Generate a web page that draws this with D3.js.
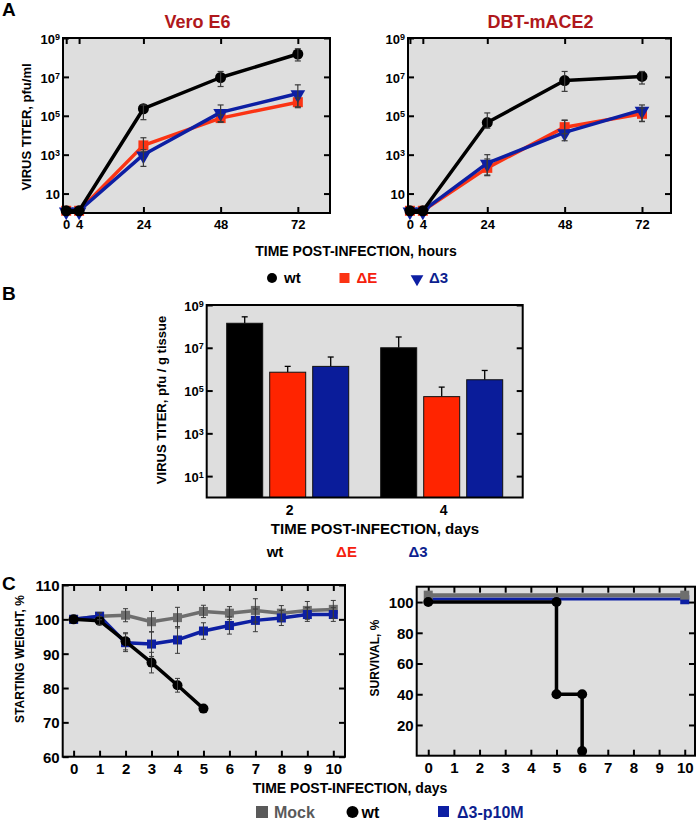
<!DOCTYPE html>
<html><head><meta charset="utf-8">
<script src="https://cdn.jsdelivr.net/npm/d3@7"></script>
<style>
body{margin:0;background:#fff}
text{font-family:"Liberation Sans",Arial,Helvetica,sans-serif;font-weight:bold}
</style>
</head><body>
<svg id="c" width="698" height="820"></svg>
<script>
// ---------------- DATA ----------------
// Panel A (hours post-infection, virus titer pfu/ml)
const hours = [0, 4, 24, 48, 72];
const hourLabels = ["0", "4", "24", "48", "72"];
const veroWt   = [1.3, 1.3, 2.3e5, 9.3e6, 1.5e8];
const veroWtLo = [null, null, 6.3e4, 3.2e6, 6.6e7];
const veroWtHi = [null, null, 3.6e5, 1.9e7, 2.8e8];
const veroDE   = [1.3, 1.3, 3.0e3, 7.6e4, 5.0e5];
const veroDELo = [null, null, 1.4e3, 4.6e4, 2.6e5];
const veroDEHi = [null, null, 7.4e3, 1.1e5, 8.3e5];
const veroD3   = [1.3, 1.3, 1.0e3, 1.5e5, 1.4e6];
const veroD3Lo = [null, null, 2.5e2, 5.0e4, 2.9e5];
const veroD3Hi = [null, null, 1.8e3, 3.6e5, 3.9e6];
const dbtWt    = [1.3, 1.3, 4.5e4, 6.5e6, 1.05e7];
const dbtWtLo  = [null, null, 2.3e4, 1.8e6, 4.3e6];
const dbtWtHi  = [null, null, 1.4e5, 1.9e7, 1.9e7];
const dbtDE    = [1.3, 1.3, 2.1e2, 2.6e4, 1.26e5];
const dbtDELo  = [null, null, 9.0e1, 1.2e4, 5.0e4];
const dbtDEHi  = [null, null, 6.0e2, 6.0e4, 2.5e5];
const dbtD3    = [1.3, 1.3, 3.7e2, 1.4e4, 2.0e5];
const dbtD3Lo  = [null, null, 8.3e1, 5.2e3, 5.2e4];
const dbtD3Hi  = [null, null, 1.0e3, 5.8e4, 3.6e5];
const logTicksA = [10, 1e3, 1e5, 1e7, 1e9];
const logLabelsA = [["10", ""], ["10", "3"], ["10", "5"], ["10", "7"], ["10", "9"]];
const seriesNamesA = ["wt", "\u0394E", "\u03943"];

// Panel B (days post-infection, virus titer pfu/g tissue)
const daysB = ["2", "4"];
const barSeries = ["wt", "\u0394E", "\u03943"];
const barWt   = [1.4e8, 1.0e7];
const barWtHi = [2.8e8, 3.2e7];
const barDE   = [7.2e5, 5.2e4];
const barDEHi = [1.35e6, 1.45e5];
const barD3   = [1.35e6, 3.2e5];
const barD3Hi = [3.7e6, 8.7e5];
const logTicksB = [10, 1e3, 1e5, 1e7, 1e9];
const logLabelsB = [["10", "1"], ["10", "3"], ["10", "5"], ["10", "7"], ["10", "9"]];

// Panel C weight
const daysC = [0, 1, 2, 3, 4, 5, 6, 7, 8, 9, 10];
const mockW   = [100, 100.9, 101.2, 99.3, 100.5, 102.3, 101.8, 102.6, 101.8, 102.6, 102.9];
const mockErr = [0, 1.0, 1.9, 3.0, 3.0, 1.8, 1.9, 3.4, 2.2, 2.6, 2.6];
const p10mW   = [100, 100.9, 93.2, 92.8, 94.0, 96.6, 98.2, 99.7, 100.4, 101.4, 101.4];
const p10mErr = [0, 1.0, 2.6, 3.6, 3.9, 2.4, 2.5, 3.3, 2.2, 2.0, 2.0];
const wtDays  = [0, 1, 2, 3, 4, 5];
const wtW     = [100, 99.6, 93.6, 87.4, 80.8, 74.0];
const wtErr   = [0, 1.2, 2.5, 3.0, 2.0, 0];
const weightTicks = [60, 70, 80, 90, 100, 110];

// Panel C survival
const survDaysWt = [0, 5, 5, 6, 6];
const survWt     = [100, 100, 40, 40, 3];
const survDaysMock = [0, 10];
const survMock     = [104.5, 104.5];
const survDaysP10m = [0, 10];
const survP10m     = [102, 102];
const survTicks = [20, 40, 60, 80, 100];
const legendC = ["Mock", "wt", "\u03943-p10M"];

// ---------------- STYLE ----------------
const BG = "#dedede", BLACK = "#000", RED = "#fb3414", BLUE = "#0d1fa3",
      REDBAR = "#ff2400", BLUEBAR = "#0a1c9a", GRAY = "#6e6e6e",
      TITLE = "#b0181c", ERR = "#3a3a3a";

const svg = d3.select("#c");

function frame(x, y) {
  const [x0, x1] = x.range(), [y0, y1] = y.range();
  svg.append("rect").attr("x", Math.min(x0, x1)).attr("y", Math.min(y0, y1))
    .attr("width", Math.abs(x1 - x0)).attr("height", Math.abs(y1 - y0))
    .attr("fill", BG);
}
function border(x, y) {
  const [x0, x1] = x.range(), [y0, y1] = y.range();
  svg.append("rect").attr("x", Math.min(x0, x1)).attr("y", Math.min(y0, y1))
    .attr("width", Math.abs(x1 - x0)).attr("height", Math.abs(y1 - y0))
    .attr("fill", "none").attr("stroke", "#000").attr("stroke-width", 2);
}
function styleAxis(g, fs) {
  g.select(".domain").remove();
  g.selectAll(".tick line").attr("stroke", "#000").attr("stroke-width", 2);
  g.selectAll(".tick text").attr("font-size", fs).attr("fill", "#000")
    .attr("font-family", '"Liberation Sans",Arial,sans-serif').attr("font-weight", "bold");
}
function ticksAll(x, y, xt, yt, xfmt, yfmt, fs, showY = true, showX = true) {
  const [x0, x1] = x.range(), [y0, y1] = y.range();
  const L = Math.min(x0, x1), R = Math.max(x0, x1), T = Math.min(y0, y1), B = Math.max(y0, y1);
  const gl = svg.append("g").attr("transform", `translate(${L},0)`)
    .call(d3.axisLeft(y).tickValues(yt).tickSizeInner(-6).tickSizeOuter(0).tickPadding(3).tickFormat(showY ? yfmt : ""));
  styleAxis(gl, fs);
  const gr = svg.append("g").attr("transform", `translate(${R},0)`)
    .call(d3.axisRight(y).tickValues(yt).tickSizeInner(-6).tickSizeOuter(0).tickFormat(""));
  styleAxis(gr, fs);
  if (xt) {
    const gb = svg.append("g").attr("transform", `translate(0,${B})`)
      .call(d3.axisBottom(x).tickValues(xt).tickSizeInner(-6).tickSizeOuter(0).tickPadding(7).tickFormat(showX ? xfmt : ""));
    styleAxis(gb, fs);
    const gt = svg.append("g").attr("transform", `translate(0,${T})`)
      .call(d3.axisTop(x).tickValues(xt).tickSizeInner(-6).tickSizeOuter(0).tickFormat(""));
    styleAxis(gt, fs);
    return [gl, gb];
  }
  return [gl, null];
}
function supLabels(g, labels, supSize) {
  g.selectAll(".tick text").each(function(d, i) {
    const t = d3.select(this); t.text(null);
    const lab = labels[i];
    t.append("tspan").text(lab[0]);
    if (lab[1]) t.append("tspan").attr("dy", "-0.45em").attr("font-size", supSize).text(lab[1]);
  });
}
function errBars(x, y, xs, lo, hi, cap, color, width) {
  xs.forEach((xv, i) => {
    if (lo[i] == null || hi[i] == null) return;
    const cx = x(xv), ya = y(lo[i]), yb = y(hi[i]);
    svg.append("line").attr("x1", cx).attr("x2", cx).attr("y1", ya).attr("y2", yb)
      .attr("stroke", color).attr("stroke-width", width);
    [ya, yb].forEach(yy => svg.append("line").attr("x1", cx - cap).attr("x2", cx + cap)
      .attr("y1", yy).attr("y2", yy).attr("stroke", color).attr("stroke-width", width));
  });
}
function line(x, y, xs, ys, color, w) {
  svg.append("path").datum(xs.map((d, i) => [d, ys[i]]))
    .attr("d", d3.line().x(d => x(d[0])).y(d => y(d[1])))
    .attr("fill", "none").attr("stroke", color).attr("stroke-width", w).attr("stroke-linejoin", "round");
}
function markers(x, y, xs, ys, type, color, size) {
  xs.forEach((xv, i) => {
    const cx = x(xv), cy = y(ys[i]);
    if (type === "circle") svg.append("circle").attr("cx", cx).attr("cy", cy).attr("r", size).attr("fill", color);
    else if (type === "square") svg.append("rect").attr("x", cx - size).attr("y", cy - size)
      .attr("width", 2 * size).attr("height", 2 * size).attr("fill", color);
    else svg.append("path").attr("d", d3.symbol(d3.symbolTriangle, size * size * 2.6)())
      .attr("transform", `translate(${cx},${cy + 1}) rotate(180)`).attr("fill", color);
  });
}
function text(x, y, s, fs, opt = {}) {
  const t = svg.append("text").attr("x", x).attr("y", y).text(s).attr("font-size", fs)
    .attr("text-anchor", opt.anchor || "middle").attr("fill", opt.fill || "#000");
  if (opt.rotate) t.attr("transform", `rotate(-90,${x},${y})`);
  return t;
}

// ---------------- PANEL A ----------------
function panelA(xr, dom, wt, wtLo, wtHi, de, deLo, deHi, d3s, d3Lo, d3Hi, title, yLabels) {
  const x = d3.scaleLinear().domain(dom).range(xr);
  const y = d3.scaleLog().domain([1, 1e9]).range([213, 38]);
  frame(x, y);
  const [gl, gb] = ticksAll(x, y, hours, logTicksA, (d, i) => hourLabels[i], d => "", 13);
  supLabels(gl, logLabelsA, 9);
  gl.selectAll(".tick text").attr("dy", "0.4em");
  line(x, y, hours, de, RED, 3.5);
  markers(x, y, hours, de, "square", RED, 5);
  line(x, y, hours, d3s, BLUE, 3.5);
  markers(x, y, hours, d3s, "tri", BLUE, 6);
  line(x, y, hours, wt, BLACK, 3.5);
  markers(x, y, hours, wt, "circle", BLACK, 5.5);
  errBars(x, y, hours, deLo, deHi, 3, ERR, 1.2);
  errBars(x, y, hours, d3Lo, d3Hi, 3, ERR, 1.2);
  errBars(x, y, hours, wtLo, wtHi, 3, ERR, 1.2);
  border(x, y);
  text((xr[0] + xr[1]) / 2 + 1, 28, title, 18, { fill: TITLE });
}
panelA([63, 330], [-1, 82], veroWt, veroWtLo, veroWtHi, veroDE, veroDELo, veroDEHi, veroD3, veroD3Lo, veroD3Hi, "Vero E6");
panelA([408, 671], [-0.6, 81], dbtWt, dbtWtLo, dbtWtHi, dbtDE, dbtDELo, dbtDEHi, dbtD3, dbtD3Lo, dbtD3Hi, "DBT-mACE2");

text(2, 16, "A", 19, { anchor: "start" });
text(31, 127, "VIRUS TITER, pfu/ml", 13, { rotate: true });
text(356, 256, "TIME POST-INFECTION, hours", 14);
// legend A
{
  const lx = d3.scalePoint().domain(seriesNamesA).range([272, 417]);
  const cols = [BLACK, RED, BLUE];
  svg.append("circle").attr("cx", lx("wt")).attr("cy", 278).attr("r", 5).attr("fill", BLACK);
  svg.append("rect").attr("x", lx("\u0394E") - 5).attr("y", 273).attr("width", 10).attr("height", 10).attr("fill", RED);
  svg.append("path").attr("d", d3.symbol(d3.symbolTriangle, 70)()).attr("transform", `translate(${lx("\u03943")},279) rotate(180)`).attr("fill", BLUE);
  seriesNamesA.forEach((s, i) => text(lx(s) + 12, 283, s, 15, { anchor: "start", fill: i === 0 ? "#000" : (i === 1 ? "#f5200d" : "#0d1f8f") }));
}

// ---------------- PANEL B ----------------
{
  const x0 = d3.scaleBand().domain(daysB).range([206.7, 522.7]).paddingInner(0).paddingOuter(0.026);
  const x1 = d3.scaleBand().domain(barSeries).range([0, x0.step() * 1.0]).paddingInner(0.163).paddingOuter(0.372);
  const y = d3.scaleLog().domain([1, 1e9]).range([497.5, 305]);
  const xr = d3.scaleLinear().domain([0, 1]).range([206.7, 522.7]);
  frame(xr, y);
  const vals = [barWt, barDE, barD3], his = [barWtHi, barDEHi, barD3Hi], cols = [BLACK, REDBAR, BLUEBAR];
  daysB.forEach((d, di) => {
    barSeries.forEach((s, si) => {
      const bx = x0(d) + x1(s), bw = x1.bandwidth(), cx = bx + bw / 2;
      const top = y(vals[si][di]), eh = y(his[si][di]);
      svg.append("line").attr("x1", cx).attr("x2", cx).attr("y1", top).attr("y2", eh).attr("stroke", "#000").attr("stroke-width", 1.3);
      svg.append("line").attr("x1", cx - 3).attr("x2", cx + 3).attr("y1", eh).attr("y2", eh).attr("stroke", "#000").attr("stroke-width", 1.3);
      svg.append("rect").attr("x", bx).attr("y", top).attr("width", bw).attr("height", y.range()[0] - top)
        .attr("fill", cols[si]).attr("stroke", "#111").attr("stroke-width", 1);
    });
  });
  const [gl] = ticksAll(xr, y, null, logTicksB, null, d => "", 13);
  supLabels(gl, logLabelsB, 9);
  gl.selectAll(".tick text").attr("dy", "0.4em");
  border(xr, y);
  daysB.forEach(d => text(x0(d) + x0.bandwidth() / 2 + 2, 515, d, 14));
  text(2, 300, "B", 19, { anchor: "start" });
  text(166, 400, "VIRUS TITER, pfu / g tissue", 13, { rotate: true });
  text(375, 534, "TIME POST-INFECTION, days", 15);
  const lx = d3.scalePoint().domain(barSeries).range([275, 418]);
  const lc = ["#000", "#f5200d", "#0d1f8f"];
  barSeries.forEach((s, i) => text(lx(s), 557, s, 15, { fill: lc[i] }));
}

// ---------------- PANEL C (weight) ----------------
{
  const x = d3.scaleLinear().domain([-0.42, 10.45]).range([62.7, 345]);
  const y = d3.scaleLinear().domain([60, 110]).range([756.7, 585]);
  frame(x, y);
  const [gl, gb] = ticksAll(x, y, daysC, weightTicks, d => d, d => d, 15);
  gl.selectAll(".tick text").attr("dy", "0.36em");
  line(x, y, daysC, mockW, GRAY, 3.5);
  markers(x, y, daysC, mockW, "square", GRAY, 4.5);
  line(x, y, daysC, p10mW, BLUE, 3.5);
  markers(x, y, daysC, p10mW, "square", BLUE, 4.5);
  line(x, y, wtDays, wtW, BLACK, 3.5);
  markers(x, y, wtDays, wtW, "circle", BLACK, 5);
  const lo = (v, e) => v.map((d, i) => e[i] ? d - e[i] : null), hi = (v, e) => v.map((d, i) => e[i] ? d + e[i] : null);
  errBars(x, y, daysC, lo(mockW, mockErr), hi(mockW, mockErr), 2.5, ERR, 1);
  errBars(x, y, daysC, lo(p10mW, p10mErr), hi(p10mW, p10mErr), 2.5, ERR, 1);
  errBars(x, y, wtDays, lo(wtW, wtErr), hi(wtW, wtErr), 2.5, ERR, 1);
  border(x, y);
  text(2, 590, "C", 19, { anchor: "start" });
  text(24, 659, "STARTING WEIGHT, %", 12, { rotate: true });
}

// ---------------- PANEL C (survival) ----------------
{
  const x = d3.scaleLinear().domain([-0.45, 10.4]).range([416.7, 695]);
  const y = d3.scaleLinear().domain([0, 110]).range([755.7, 586.7]);
  frame(x, y);
  const [gl, gb] = ticksAll(x, y, daysC, survTicks, d => d, d => d, 15);
  gl.selectAll(".tick text").attr("dy", "0.36em");
  line(x, y, survDaysP10m, survP10m, BLUE, 3);
  markers(x, y, [survDaysP10m[1]], [survP10m[1] - 0.5], "square", BLUE, 4.5);
  line(x, y, survDaysMock, survMock, GRAY, 4);
  markers(x, y, survDaysMock, survMock, "square", GRAY, 4.5);
  line(x, y, survDaysWt, survWt, BLACK, 3.5);
  markers(x, y, survDaysWt, survWt, "circle", BLACK, 5);
  border(x, y);
  text(379, 658, "SURVIVAL, %", 12, { rotate: true });
}
text(350, 793, "TIME POST-INFECTION, days", 14);
// legend C
{
  const lx = d3.scalePoint().domain(legendC).range([262, 443]);
  svg.append("rect").attr("x", lx("Mock") - 6).attr("y", 806).attr("width", 12).attr("height", 12).attr("fill", "#5a5a5a");
  text(lx("Mock") + 12, 818, "Mock", 16, { anchor: "start", fill: "#5a5a5a" });
  svg.append("circle").attr("cx", lx("wt")).attr("cy", 812).attr("r", 6).attr("fill", "#000");
  text(lx("wt") + 9, 818, "wt", 16, { anchor: "start" });
  svg.append("rect").attr("x", lx("\u03943-p10M") - 5).attr("y", 806).attr("width", 11).attr("height", 11).attr("fill", BLUE);
  text(lx("\u03943-p10M") + 14, 818, "\u03943-p10M", 16, { anchor: "start", fill: "#0d1f8f" });
}
</script>
</body></html>
